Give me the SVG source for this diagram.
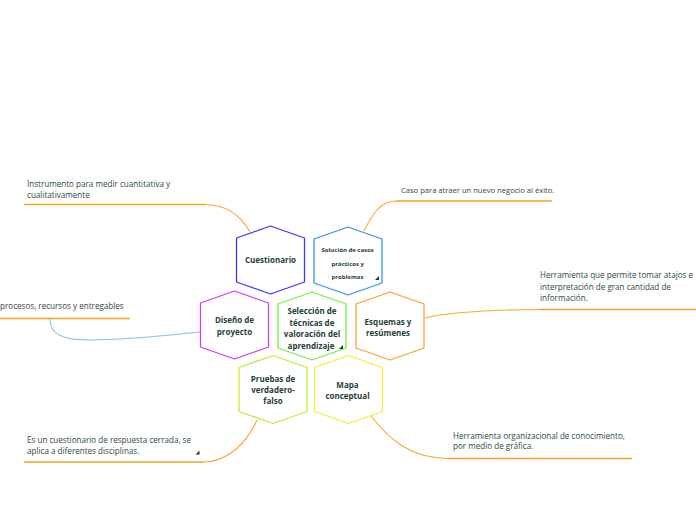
<svg xmlns="http://www.w3.org/2000/svg" width="696" height="520" viewBox="0 0 696 520">
<style>
.hex{fill:#ffffff;stroke-width:1.3;stroke-linejoin:round}
.nt{font-family:"Open Sans","Noto Sans","DejaVu Sans",sans-serif;font-weight:bold;font-size:8px;fill:#1f4236;text-anchor:middle}
.st{font-family:"Open Sans","Noto Sans","DejaVu Sans",sans-serif;font-weight:bold;font-size:6px;fill:#1f4236}
.lt{font-family:"Open Sans","Noto Sans","DejaVu Sans",sans-serif;font-size:8.1px;fill:#2d4a40}
.ul{fill:none;stroke:#f5a01e;stroke-width:1.5}
.cn{fill:none;stroke:#f7a733;stroke-width:1.1}
.tri{fill:#1f3a33}
</style>
<defs>
<path id="hx" d="M0,-34 L34,-22 L34,22 L0,34 L-34,22 L-34,-22 Z"/>
</defs>
<g id="connectors">
<path class="ul" d="M24,204.5 H205"/>
<path class="cn" d="M205,204.5 C228,204.5 242,218 250,232"/>
<path class="ul" d="M552,201 H396"/>
<path class="cn" d="M396,201 C380,201 372,215 364,231"/>
<path class="ul" d="M696,309.5 H540"/>
<path class="cn" d="M540,309.5 C480,310 445,313 425,318"/>
<path class="ul" d="M0,318.5 H130"/>
<path fill="none" stroke="#8cc0ee" stroke-width="1.1" d="M50,319 C50,333 60,340 90,340 C130,340 170,335 200,332"/>
<path class="ul" d="M24,462 H203"/>
<path class="cn" d="M203,462 C230,462 248,440 257,420"/>
<path class="ul" d="M632,458.5 H448"/>
<path class="cn" d="M448,458.5 C410,458 390,440 371,416"/>
</g>
<g id="label-instrumento">
<text class="lt" x="27" y="187">Instrumento para medir cuantitativa y</text>
<text class="lt" x="27" y="198">cualitativamente</text>
</g>
<g id="label-caso">
<text class="lt" x="401" y="193" style="font-size:7.6px">Caso para atraer un nuevo negocio al éxito.</text>
</g>
<g id="label-herramienta1">
<text class="lt" x="540" y="278">Herramienta que permite tomar atajos e</text>
<text class="lt" x="540" y="289.5">interpretación de gran cantidad de</text>
<text class="lt" x="540" y="300.5">información.</text>
</g>
<g id="label-procesos">
<text class="lt" x="0" y="309">procesos, recursos y entregables</text>
</g>
<g id="label-es-un">
<text class="lt" x="27" y="443">Es un cuestionario de respuesta cerrada, se</text>
<text class="lt" x="27" y="453.5">aplica a diferentes disciplinas.</text>
<path class="tri" d="M199.5,450.5 L199.5,454.5 L195.5,454.5 Z"/>
</g>
<g id="label-herramienta2">
<text class="lt" x="453" y="438.5">Herramienta organizacional de conocimiento,</text>
<text class="lt" x="453" y="449">por medio de gráfica.</text>
</g>
<g id="node-cuestionario" transform="translate(270.5,260)">
<use href="#hx" class="hex" stroke="#3b35f5"/>
<text class="nt" x="0" y="3">Cuestionario</text>
</g>
<g id="node-solucion" transform="translate(348,261)">
<use href="#hx" class="hex" stroke="#3d92dc"/>
<text class="st" x="-26.5" y="-9.5">Solución de casos</text>
<text class="st" x="-16.5" y="5">prácticos y</text>
<text class="st" x="-16.5" y="17.5">problemas</text>
<path class="tri" d="M31,15 L31,19 L27,19 Z"/>
</g>
<g id="node-diseno" transform="translate(234.5,325)">
<use href="#hx" class="hex" stroke="#d23df0"/>
<text class="nt" x="0" y="-2">Diseño de</text>
<text class="nt" x="0" y="9.5">proyecto</text>
</g>
<g id="node-seleccion" transform="translate(312,326)">
<use href="#hx" class="hex" stroke="#77ee3c"/>
<text class="nt" x="0" y="-12">Selección de</text>
<text class="nt" x="0" y="-0.5">técnicas de</text>
<text class="nt" x="0" y="11">valoración del</text>
<text class="nt" x="-1" y="22.5">aprendizaje</text>
<path class="tri" d="M31,19 L31,23 L27,23 Z"/>
</g>
<g id="node-esquemas" transform="translate(390,326)">
<use href="#hx" class="hex" stroke="#fba233"/>
<text class="nt" x="-2" y="-1">Esquemas y</text>
<text class="nt" x="-2" y="10">resúmenes</text>
</g>
<g id="node-pruebas" transform="translate(273,389.5)">
<use href="#hx" class="hex" stroke="#bdee3a"/>
<text class="nt" x="0" y="-7.5">Pruebas de</text>
<text class="nt" x="0" y="3.5">verdadero-</text>
<text class="nt" x="0" y="14">falso</text>
</g>
<g id="node-mapa" transform="translate(348.5,389.5)">
<use href="#hx" class="hex" stroke="#f9eb3a"/>
<text class="nt" x="-1" y="-2">Mapa</text>
<text class="nt" x="-1" y="9.5">conceptual</text>
</g>
</svg>
